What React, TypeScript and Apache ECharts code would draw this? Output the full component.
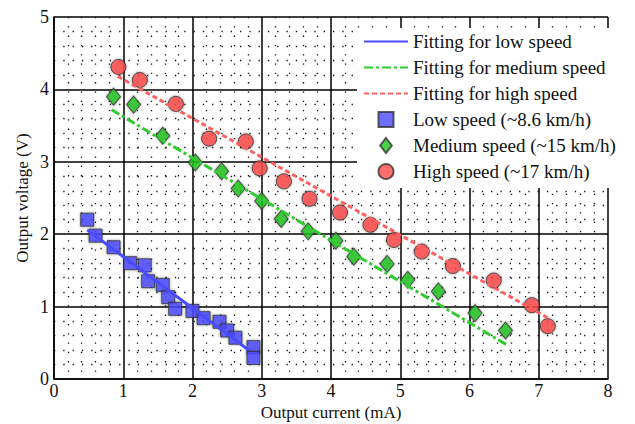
import React, { useEffect, useRef } from "react";
import * as echarts from "echarts";

// Measured data (Output current mA, Output voltage V)
const lowSpeed: number[][] = [
  [0.48, 2.2], [0.6, 1.98], [0.86, 1.82], [1.1, 1.6], [1.31, 1.57], [1.36, 1.35],
  [1.57, 1.3], [1.65, 1.13], [1.75, 0.97], [2.0, 0.94], [2.16, 0.84], [2.39, 0.79],
  [2.5, 0.67], [2.62, 0.57], [2.88, 0.44], [2.88, 0.29],
];
const mediumSpeed: number[][] = [
  [0.86, 3.9], [1.15, 3.79], [1.57, 3.36], [2.04, 2.99], [2.42, 2.87], [2.66, 2.63],
  [3.0, 2.46], [3.28, 2.21], [3.67, 2.04], [4.07, 1.91], [4.33, 1.69], [4.81, 1.59],
  [5.11, 1.37], [5.55, 1.21], [6.08, 0.91], [6.52, 0.67],
];
const highSpeed: number[][] = [
  [0.93, 4.31], [1.24, 4.13], [1.76, 3.8], [2.24, 3.32], [2.77, 3.28], [2.97, 2.91],
  [3.32, 2.73], [3.69, 2.49], [4.13, 2.3], [4.57, 2.13], [4.91, 1.92], [5.31, 1.76],
  [5.76, 1.56], [6.35, 1.36], [6.9, 1.02], [7.13, 0.73],
];
// Fitted line end points
const fitLow: number[][] = [[0.48, 2.06], [2.81, 0.4]];
const fitMedium: number[][] = [[0.83, 3.72], [6.54, 0.47]];
const fitHigh: number[][] = [[0.92, 4.18], [7.14, 0.84]];

const names = [
  "Fitting for low speed",
  "Fitting for medium speed",
  "Fitting for high speed",
  "Low speed (~8.6 km/h)",
  "Medium speed (~15 km/h)",
  "High speed (~17 km/h)",
];

const FONT = "Liberation Serif";
const BLUE = "#4a4aff";
const GREEN = "#1fc41f";
const RED = "#ff4a4a";

export default function App() {
  const ref = useRef<HTMLDivElement>(null);
  useEffect(() => {
    document.body.style.margin = "0";
    const chart = echarts.init(ref.current!, null, { renderer: "svg" });
    const markerStyle = (c: string) => ({
      color: c,
      borderColor: "#333",
      borderWidth: 1,
      shadowBlur: 3,
      shadowColor: "rgba(0,0,0,0.45)",
    });
    const axisCommon = {
      type: "value",
      interval: 1,
      axisLine: { show: true, lineStyle: { color: "#000", width: 1.5 } },
      axisTick: { show: false },
      axisLabel: { fontFamily: FONT, fontSize: 18, lineHeight: 16, color: "#111" },
      splitLine: { show: true, lineStyle: { color: "#000", width: 1.5 } },
      minorTick: { show: false, splitNumber: 5 },
      minorSplitLine: { show: true, lineStyle: { color: "#111", width: 1.3, type: [1.3, 8] } },
      nameLocation: "middle",
      nameMoveOverlap: false,
      nameTextStyle: { fontFamily: FONT, fontSize: 17, lineHeight: 16, color: "#111" },
    };
    const hideSym = { opacity: 0 };
    chart.setOption({
      animation: false,
      backgroundColor: "#fff",
      grid: { left: 54, top: 17, right: 27, bottom: 45, outerBoundsMode: "none" },
      xAxis: {
        ...axisCommon,
        min: 0, max: 8,
        name: "Output current (mA)",
        nameGap: 25,
        axisLabel: { ...axisCommon.axisLabel, margin: 4 },
      },
      yAxis: {
        ...axisCommon,
        min: 0, max: 5,
        name: "Output voltage (V)",
        nameGap: 24,
        axisLabel: { ...axisCommon.axisLabel, margin: 5 },
      },
      legend: {
        orient: "vertical",
        left: 363,
        top: 32,
        padding: 0,
        z: 10,
        itemWidth: 44,
        itemHeight: 15,
        itemGap: 7,
        symbolKeepAspect: true,
        textStyle: { fontFamily: FONT, fontSize: 19, color: "#111", lineHeight: 15 },
        data: [
          { name: names[0], itemStyle: hideSym },
          { name: names[1], itemStyle: hideSym },
          { name: names[2], itemStyle: hideSym },
          { name: names[3], icon: "path://M0,0L10,0L10,10L0,10Z" },
          { name: names[4], icon: "path://M7,0L14,9L7,18L0,9Z" },
          { name: names[5], icon: "circle" },
        ],
      },
      graphic: [
        {
          type: "rect",
          z: 5,
          shape: { x: 357, y: 28, width: 255, height: 160 },
          style: { fill: "#fff" },
        },
      ],
      series: [
        {
          name: names[0], type: "line", data: fitLow, symbol: "none",
          lineStyle: { color: BLUE, width: 3 }, itemStyle: { color: BLUE },
        },
        {
          name: names[1], type: "line", data: fitMedium, symbol: "none",
          lineStyle: { color: "#2ecc2e", width: 3, type: [9, 3, 3, 3] }, itemStyle: { color: "#2ecc2e" },
        },
        {
          name: names[2], type: "line", data: fitHigh, symbol: "none",
          lineStyle: { color: "#ff6060", width: 3, type: [5, 3] }, itemStyle: { color: "#ff6060" },
        },
        {
          name: names[3], type: "scatter", data: lowSpeed, symbol: "rect", symbolSize: 13,
          itemStyle: markerStyle(BLUE),
        },
        {
          name: names[4], type: "scatter", data: mediumSpeed, symbol: "diamond", symbolSize: [14, 17],
          itemStyle: markerStyle(GREEN),
        },
        {
          name: names[5], type: "scatter", data: highSpeed, symbol: "circle", symbolSize: 15,
          itemStyle: markerStyle(RED),
        },
      ],
    });
    return () => chart.dispose();
  }, []);
  return (
    <div
      ref={ref}
      style={{ position: "fixed", left: 0, top: 0, width: 635, height: 424 }}
    />
  );
}
